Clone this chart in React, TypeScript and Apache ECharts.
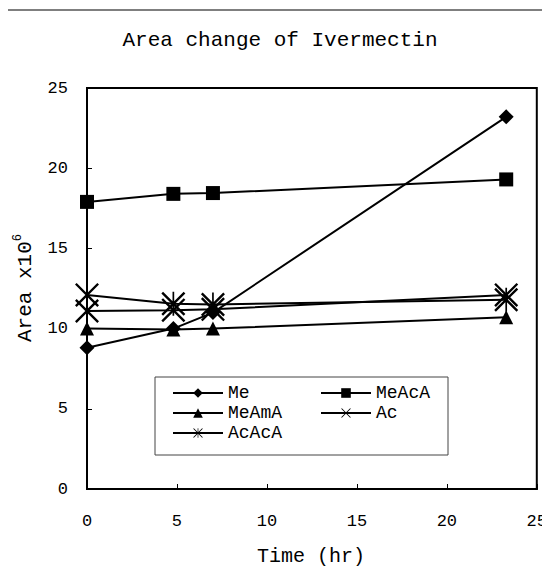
import React, { useEffect, useRef } from "react";
import * as echarts from "echarts";

// Sampling times (hr)
const times = [0, 4.8, 7, 23.3];

// Peak areas (x10^6) per derivative
const me = [8.8, 10.0, 11.0, 23.2];
const meAcA = [17.9, 18.4, 18.45, 19.3];
const meAmA = [10.0, 9.95, 10.0, 10.7];
const ac = [11.1, 11.15, 11.2, 12.1];
const acAcA = [12.1, 11.55, 11.5, 11.8];

const seriesNames = ["Me", "MeAcA", "MeAmA", "Ac", "AcAcA"];
const xTicks = [0, 25, 5];
const yTicks = [0, 25, 5];

const FONT = "'Liberation Mono', 'DejaVu Sans Mono', monospace";

// Filled cross shapes for the X and asterisk markers
const CROSS =
  "path://M0,1.4L1.4,0L20,18.6L18.6,20ZM18.6,0L20,1.4L1.4,20L0,18.6Z";
const STAR =
  "path://M0,1.4L1.4,0L20,18.6L18.6,20ZM18.6,0L20,1.4L1.4,20L0,18.6ZM9.3,0L10.7,0L10.7,20L9.3,20Z";

const pairs = (ys: number[]) => times.map((t, i) => [t, ys[i]]);

export default function App() {
  const ref = useRef<HTMLDivElement>(null);

  useEffect(() => {
    if (!ref.current) return;
    const chart = echarts.init(ref.current, null, { renderer: "svg" });

    const lineStyle = { color: "#000", width: 2 };
    const itemStyle = { color: "#000" };
    const mk = (
      name: string,
      data: number[],
      symbol: string,
      symbolSize: number
    ) => ({
      name,
      type: "line",
      data: pairs(data),
      symbol,
      symbolSize,
      showSymbol: true,
      lineStyle,
      itemStyle,
      emphasis: { disabled: true },
    });

    const legendBase = {
      orient: "vertical",
      top: 384,
      padding: 0,
      itemWidth: 50,
      itemHeight: 12,
      itemGap: 2,
      selectedMode: false,
      textStyle: {
        fontFamily: FONT,
        fontSize: 18,
        lineHeight: 18,
        color: "#000",
      },
    };

    chart.setOption({
      animation: false,
      backgroundColor: "#fff",
      grid: {
        left: 87,
        right: 13,
        top: 88,
        bottom: 87,
        show: true,
        borderColor: "#000",
        borderWidth: 2,
      },
      xAxis: {
        type: "value",
        min: xTicks[0],
        max: xTicks[1],
        interval: xTicks[2],
        axisLine: { show: true, lineStyle: { color: "#000", width: 2 } },
        axisTick: { show: true, inside: true, length: 5, lineStyle: { color: "#000" } },
        splitLine: { show: false },
        axisLabel: {
          margin: 24,
          fontFamily: FONT,
          fontSize: 17,
          color: "#000",
        },
      },
      yAxis: {
        type: "value",
        min: yTicks[0],
        max: yTicks[1],
        interval: yTicks[2],
        axisLine: { show: true, lineStyle: { color: "#000", width: 2 } },
        axisTick: { show: true, inside: true, length: 5, lineStyle: { color: "#000" } },
        splitLine: { show: false },
        axisLabel: {
          margin: 19,
          fontFamily: FONT,
          fontSize: 17,
          color: "#000",
        },
      },
      legend: [
        { ...legendBase, left: 172, data: ["Me", "MeAmA", "AcAcA"] },
        { ...legendBase, left: 320, data: ["MeAcA", "Ac"] },
      ],
      graphic: [
        {
          type: "rect",
          shape: { x: 6, y: 10, width: 580, height: 600 },
          style: { fill: "none", stroke: "#555", lineWidth: 1.5 },
          silent: true,
        },
        {
          type: "rect",
          shape: { x: 155, y: 377, width: 293, height: 78 },
          style: { fill: "#fff", stroke: "#444", lineWidth: 1 },
          z: 1,
          silent: true,
        },
        {
          type: "text",
          x: 280,
          y: 40,
          style: {
            text: "Area change of Ivermectin",
            fontFamily: FONT,
            fontSize: 21,
            fill: "#000",
            align: "center",
            verticalAlign: "middle",
          },
        },
        {
          type: "text",
          x: 311,
          y: 556,
          style: {
            text: "Time (hr)",
            fontFamily: FONT,
            fontSize: 20,
            fill: "#000",
            align: "center",
            verticalAlign: "middle",
          },
        },
        {
          type: "text",
          x: 24,
          y: 288,
          rotation: Math.PI / 2,
          style: {
            text: "{a|Area x10}{s|6}",
            align: "center",
            verticalAlign: "middle",
            rich: {
              a: {
                fontFamily: FONT,
                fontSize: 21,
                fill: "#000",
                lineHeight: 24,
                verticalAlign: "bottom",
              },
              s: {
                fontFamily: FONT,
                fontSize: 12,
                fill: "#000",
                lineHeight: 24,
                verticalAlign: "top",
              },
            },
          },
        },
      ],
      series: [
        mk(seriesNames[0], me, "diamond", 15),
        mk(seriesNames[1], meAcA, "rect", 14),
        mk(seriesNames[2], meAmA, "triangle", 14),
        mk(seriesNames[3], ac, CROSS, 24),
        mk(seriesNames[4], acAcA, STAR, 24),
      ],
    });

    return () => chart.dispose();
  }, []);

  return <div ref={ref} style={{ width: 550, height: 576, margin: -8 }} />;
}
